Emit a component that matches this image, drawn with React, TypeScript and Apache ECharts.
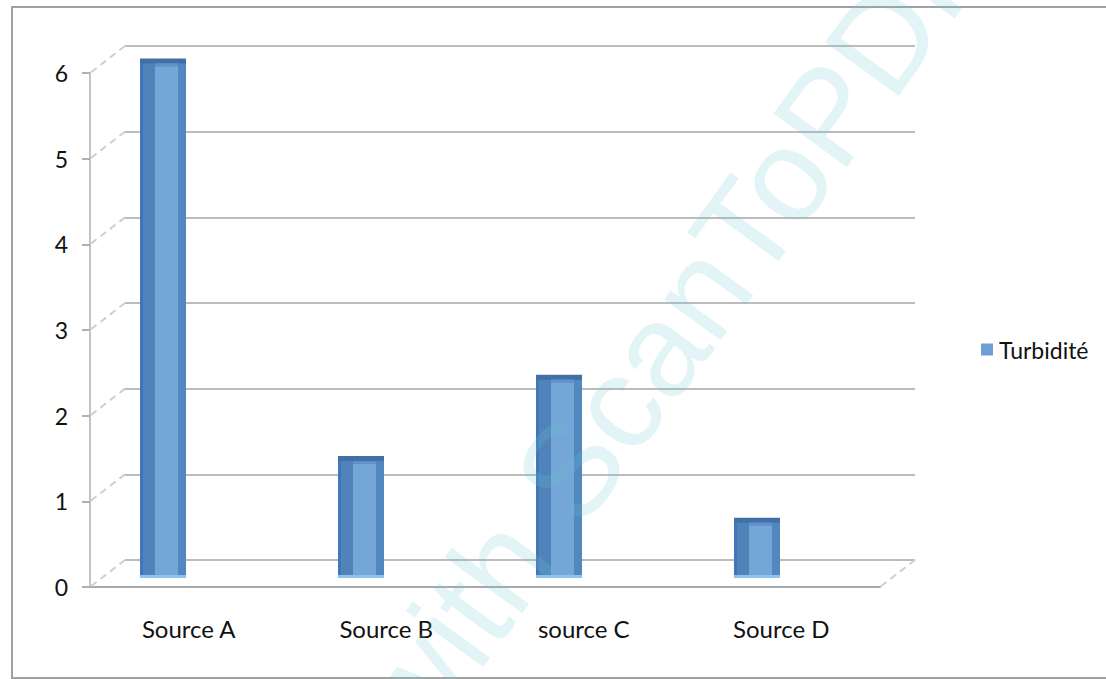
import React, { useEffect, useRef } from "react";
import * as echarts from "echarts";

// Turbidity per water source
const CATEGORIES = ["Source A", "Source B", "source C", "Source D"];
const TURBIDITY = [6.04, 1.4, 2.35, 0.68];
const SERIES_NAME = "Turbidité";
const Y_TICKS = [0, 1, 2, 3, 4, 5, 6];

// Depth vector of the pseudo-3D box (back wall -> front plane), px
const DEPTH_DX = -35;
const DEPTH_DY = 27;

const FONT = "Lato, 'Open Sans', sans-serif";
const TEXT = "#111111";
const GRID_LINE = "#bcbcbc";

export default function App() {
  const ref = useRef<HTMLDivElement>(null);

  useEffect(() => {
    if (!ref.current) return;
    const chart = echarts.init(ref.current, undefined, { renderer: "svg" });

    // edges of the side wall (one per tick) plus the right edge of the floor
    const wallEdges = Y_TICKS.map((v) => [0, v]).concat([[CATEGORIES.length, 0]]);

    const option: any = {
      animation: false,
      backgroundColor: "#ffffff",
      legend: {
        show: true,
        data: [SERIES_NAME],
        left: 976,
        top: 333,
        orient: "vertical",
        itemWidth: 12,
        itemHeight: 12,
        itemGap: 8,
        icon: "rect",
        textStyle: { fontFamily: FONT, fontSize: 23, color: TEXT, padding: [0, 0, 0, 1] },
      },
      grid: [
        // back wall
        { left: 125, right: 191, top: 46, bottom: 119 },
        // front plane (axes and labels)
        { left: 90, right: 226, top: 73, bottom: 92 },
        // columns
        { left: 64, right: 250, top: 64, bottom: 101 },
      ],
      xAxis: [
        { gridIndex: 0, type: "value", min: 0, max: CATEGORIES.length, show: false },
        {
          gridIndex: 1,
          type: "category",
          data: CATEGORIES,
          axisLine: { show: true, lineStyle: { color: "#a9a9a9", width: 2 } },
          axisTick: { show: false },
          axisLabel: { fontFamily: FONT, fontSize: 24, color: TEXT, margin: 29 },
        },
        { gridIndex: 2, type: "category", data: CATEGORIES, show: false },
      ],
      yAxis: [
        {
          gridIndex: 0,
          type: "value",
          min: 0,
          max: 6,
          interval: 1,
          axisLine: { show: false },
          axisTick: { show: false },
          axisLabel: { show: false },
          splitLine: { show: true, lineStyle: { color: GRID_LINE, width: 2 } },
        },
        {
          gridIndex: 1,
          type: "value",
          min: 0,
          max: 6,
          interval: 1,
          axisLine: { show: true, lineStyle: { color: "#c4c4c4", width: 2 } },
          axisTick: { show: true, length: 8, lineStyle: { color: "#b0b0b0", width: 2 } },
          axisLabel: { fontFamily: FONT, fontSize: 23, color: TEXT, margin: 22 },
          splitLine: { show: false },
        },
        { gridIndex: 2, type: "value", min: 0, max: 6, interval: 1, show: false },
      ],
      series: [
        {
          type: "custom",
          name: "wall",
          xAxisIndex: 0,
          yAxisIndex: 0,
          silent: true,
          data: wallEdges,
          renderItem: (_params: any, api: any) => {
            const p = api.coord([api.value(0), api.value(1)]);
            return {
              type: "line",
              shape: { x1: p[0], y1: p[1], x2: p[0] + DEPTH_DX, y2: p[1] + DEPTH_DY },
              style: { stroke: "#cfcfcf", lineWidth: 2, lineDash: [7, 5] },
            };
          },
        },
        {
          type: "custom",
          name: SERIES_NAME,
          xAxisIndex: 2,
          yAxisIndex: 2,
          itemStyle: { color: "#6f9fd2" },
          data: TURBIDITY.map((v, i) => [i, v]),
          renderItem: (_params: any, api: any) => {
            const top = api.coord([api.value(0), api.value(1)]);
            const base = api.coord([api.value(0), 0]);
            const w = 46;
            const x0 = top[0] - w / 2;
            const y0 = top[1];
            const h = base[1] - y0;
            return {
              type: "group",
              children: [
                { type: "rect", shape: { x: x0, y: y0, width: w, height: h }, style: { fill: "#74a6d7" } },
                { type: "rect", shape: { x: x0, y: y0, width: 15, height: h }, style: { fill: "#4f83b9" } },
                { type: "rect", shape: { x: x0, y: y0, width: 3, height: h }, style: { fill: "#3f77b8" } },
                { type: "rect", shape: { x: x0 + w - 8, y: y0, width: 8, height: h }, style: { fill: "#5288c0" } },
                { type: "rect", shape: { x: x0, y: y0 - 2, width: w, height: 5 }, style: { fill: "#426fa6" } },
                { type: "rect", shape: { x: x0 + 15, y: y0 + 3, width: w - 23, height: 3 }, style: { fill: "#5e92c8" } },
                { type: "rect", shape: { x: x0, y: base[1] - 3, width: w, height: 3 }, style: { fill: "#8fc3ec" } },
              ],
            };
          },
        },
      ],
      graphic: [
        {
          type: "rect",
          silent: true,
          shape: { x: 12, y: 7, width: 1120, height: 671 },
          style: { fill: "none", stroke: "#a0a0a0", lineWidth: 2 },
          z: 100,
        },
        {
          type: "text",
          silent: true,
          x: 672,
          y: 330,
          rotation: (54 * Math.PI) / 180,
          style: {
            text: "with ScanToPDF",
            fontFamily: "'Liberation Sans', Arial, sans-serif",
            fontSize: 132,
            fill: "rgba(110, 200, 212, 0.2)",
            align: "center",
            verticalAlign: "middle",
          },
          z: 200,
        },
      ],
    };

    chart.setOption(option);
    return () => chart.dispose();
  }, []);

  return (
    <div
      ref={ref}
      style={{ position: "fixed", left: 0, top: 0, width: 1106, height: 679, background: "#fff" }}
    />
  );
}
